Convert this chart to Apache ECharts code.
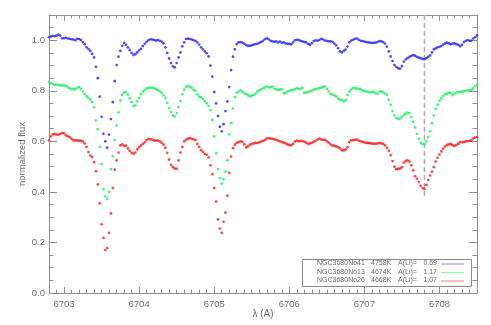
<!DOCTYPE html>
<html><head><meta charset="utf-8">
<script src="https://cdn.jsdelivr.net/npm/echarts@6/dist/echarts.min.js"></script>
<style>html,body{margin:0;padding:0;background:#fff}#c{width:491px;height:325px}</style>
</head><body><div id="c"></div>
<script>
// Wavelength grid of the spectra (Angstrom), regular sampling
const lambdaStart = 6702.8;
const lambdaStep = 0.025;
const lambdaCount = 229;

const starNames = ['NGC3680No41', 'NGC3680No13', 'NGC3680No26'];
const teffs = ['4758K', '4674K', '4668K'];
const aLi = ['0.69', '1.17', '1.07'];

const fluxNo41 = [
1.012,1.015,1.017,1.016,1.018,1.022,1.018,1.008,
1.008,1.010,1.007,1.006,1.004,1.003,1.000,1.006,
1.005,1.001,0.993,0.984,0.972,0.965,0.958,0.946,
0.932,0.895,0.850,0.777,0.697,0.630,0.600,0.575,
0.627,0.688,0.755,0.838,0.902,0.935,0.958,0.978,
0.990,0.982,0.972,0.962,0.950,0.942,0.945,0.952,
0.960,0.966,0.977,0.986,0.994,1.000,1.004,1.003,
1.001,0.999,1.001,0.998,0.995,0.988,0.972,0.950,
0.928,0.910,0.897,0.893,0.910,0.932,0.952,0.976,
0.992,1.005,1.007,1.005,1.003,1.000,0.998,0.992,
0.983,0.972,0.964,0.956,0.949,0.936,0.900,0.856,
0.795,0.750,0.700,0.658,0.640,0.668,0.720,0.758,
0.815,0.882,0.935,0.964,0.985,0.992,0.993,0.991,
0.986,0.981,0.978,0.978,0.980,0.983,0.985,0.986,
0.990,0.993,0.998,1.004,1.008,1.004,0.998,0.996,
0.994,0.996,0.991,0.995,0.990,0.992,0.988,0.986,
0.986,0.984,0.992,1.000,1.002,1.001,0.998,0.996,
0.993,0.992,0.985,0.982,0.988,0.997,1.000,0.998,
1.001,1.006,1.003,0.999,0.998,0.996,0.996,0.994,
0.987,0.980,0.968,0.956,0.952,0.958,0.963,0.975,
0.992,0.999,1.002,1.006,1.007,1.002,0.998,0.997,
0.995,0.993,0.992,0.991,0.989,0.990,0.991,0.993,
0.997,0.996,0.993,0.987,0.975,0.956,0.936,0.918,
0.902,0.894,0.889,0.888,0.898,0.915,0.924,0.929,
0.934,0.938,0.941,0.939,0.934,0.931,0.929,0.926,
0.925,0.929,0.934,0.940,0.952,0.964,0.968,0.972,
0.974,0.977,0.983,0.988,0.991,0.988,0.984,0.987,
0.988,0.985,0.982,0.976,0.982,0.993,0.998,1.001,
0.998,0.999,1.007,1.012,1.019
];

const fluxNo13 = [
0.835,0.830,0.827,0.823,0.826,0.823,0.822,0.820,
0.822,0.820,0.815,0.810,0.807,0.808,0.806,0.812,
0.815,0.808,0.798,0.787,0.778,0.772,0.765,0.755,
0.735,0.683,0.648,0.578,0.510,0.410,0.382,0.372,
0.400,0.490,0.541,0.605,0.663,0.715,0.761,0.784,
0.793,0.795,0.785,0.770,0.755,0.740,0.742,0.758,
0.772,0.787,0.797,0.804,0.810,0.812,0.813,0.812,
0.810,0.806,0.803,0.798,0.792,0.782,0.772,0.752,
0.732,0.716,0.702,0.699,0.712,0.736,0.760,0.786,
0.805,0.815,0.820,0.816,0.812,0.804,0.800,0.786,
0.777,0.775,0.768,0.758,0.750,0.740,0.724,0.685,
0.620,0.553,0.490,0.455,0.433,0.450,0.480,0.525,
0.628,0.672,0.730,0.775,0.792,0.797,0.802,0.797,
0.790,0.787,0.782,0.778,0.781,0.783,0.789,0.797,
0.802,0.806,0.810,0.813,0.817,0.815,0.814,0.817,
0.809,0.806,0.804,0.805,0.807,0.790,0.790,0.797,
0.799,0.802,0.804,0.807,0.810,0.808,0.808,0.812,
0.792,0.793,0.796,0.798,0.800,0.805,0.807,0.809,
0.811,0.813,0.815,0.817,0.808,0.798,0.788,0.785,
0.782,0.778,0.769,0.765,0.762,0.758,0.763,0.783,
0.797,0.805,0.812,0.811,0.809,0.808,0.806,0.802,
0.799,0.797,0.795,0.794,0.795,0.796,0.790,0.788,
0.797,0.798,0.795,0.790,0.784,0.765,0.745,0.720,
0.703,0.692,0.689,0.690,0.697,0.705,0.709,0.714,
0.712,0.696,0.677,0.655,0.630,0.610,0.595,0.589,
0.589,0.600,0.617,0.640,0.672,0.702,0.728,0.745,
0.760,0.770,0.780,0.786,0.789,0.792,0.792,0.783,
0.789,0.793,0.795,0.796,0.797,0.798,0.800,0.801,
0.802,0.804,0.810,0.818,0.824
];

const fluxNo26 = [
0.604,0.620,0.628,0.629,0.627,0.626,0.630,0.633,
0.632,0.624,0.620,0.616,0.610,0.604,0.603,0.604,
0.603,0.602,0.600,0.592,0.578,0.558,0.544,0.538,
0.518,0.482,0.430,0.355,0.272,0.218,0.170,0.178,
0.238,0.315,0.415,0.488,0.525,0.556,0.584,0.588,
0.582,0.583,0.572,0.562,0.555,0.551,0.556,0.568,
0.577,0.584,0.590,0.596,0.605,0.610,0.608,0.606,
0.603,0.603,0.603,0.600,0.594,0.587,0.575,0.555,
0.528,0.507,0.498,0.492,0.492,0.525,0.556,0.578,
0.600,0.607,0.610,0.613,0.610,0.608,0.605,0.590,
0.578,0.565,0.558,0.551,0.547,0.537,0.505,0.470,
0.415,0.362,0.291,0.255,0.238,0.282,0.318,0.385,
0.475,0.540,0.573,0.587,0.594,0.597,0.600,0.598,
0.588,0.576,0.580,0.587,0.590,0.592,0.594,0.594,
0.596,0.599,0.602,0.605,0.611,0.613,0.611,0.610,
0.608,0.606,0.603,0.600,0.597,0.595,0.592,0.588,
0.586,0.584,0.590,0.599,0.603,0.600,0.602,0.601,
0.598,0.595,0.590,0.592,0.594,0.598,0.602,0.607,
0.611,0.607,0.606,0.606,0.600,0.595,0.588,0.584,
0.582,0.580,0.577,0.572,0.565,0.564,0.568,0.577,
0.597,0.604,0.605,0.606,0.607,0.603,0.600,0.598,
0.596,0.594,0.594,0.593,0.591,0.590,0.590,0.592,
0.594,0.592,0.590,0.584,0.574,0.562,0.545,0.522,
0.500,0.490,0.491,0.492,0.498,0.516,0.523,0.525,
0.520,0.505,0.485,0.462,0.452,0.439,0.424,0.415,
0.412,0.428,0.447,0.465,0.480,0.498,0.520,0.535,
0.548,0.560,0.571,0.580,0.586,0.588,0.590,0.585,
0.582,0.586,0.591,0.597,0.596,0.598,0.600,0.600,
0.602,0.604,0.612,0.615,0.617
];

// Li I 6707.8 reference line (dashed) extent in flux
const liLineLambda = 6707.8;
const liLineFlux = [1.1, 0.38];

// Axis ranges and tick steps
const xRange = [6702.8, 6708.5];
const yRange = [0, 1.1];
const xMinorStep = 0.1;
const yMinorStep = 0.05;

const fluxSets = [fluxNo41, fluxNo13, fluxNo26];
const pointColors = ['#1f1fff', '#14f05a', '#ff1414'];
const sampleColors = ['#8a8aff', '#80ff9a', '#ff8080'];

const lambdas = [];
for (let i = 0; i < lambdaCount; i++) lambdas.push(+(lambdaStart + i * lambdaStep).toFixed(3));

const chart = echarts.init(document.getElementById('c'), null, {renderer: 'canvas'});
const axisColor = '#8f8f8f';
const labelColor = '#6e6e6e';
const font = 'Liberation Sans';

function xAxisDef(pos, major) {
  const a = {
    type: 'value', position: pos, min: xRange[0], max: xRange[1], gridIndex: 0,
    axisLine: {show: major, onZero: false, lineStyle: {color: axisColor, width: 1}},
    axisTick: {show: true, inside: true, length: major ? 6 : 3.5, lineStyle: {color: axisColor, width: 1}},
    axisLabel: {show: false},
    splitLine: {show: false}
  };
  if (major) { a.splitNumber = 5; } else { a.interval = xMinorStep; }
  return a;
}
function yAxisDef(pos, major) {
  const a = {
    type: 'value', position: pos, min: yRange[0], max: yRange[1], gridIndex: 0,
    axisLine: {show: major, onZero: false, lineStyle: {color: axisColor, width: 1}},
    axisTick: {show: true, inside: true, length: major ? 8 : 4.5, lineStyle: {color: axisColor, width: 1}},
    axisLabel: {show: false},
    splitLine: {show: false}
  };
  if (major) { a.splitNumber = 5; } else { a.interval = yMinorStep; }
  return a;
}

const xAxes = [xAxisDef('bottom', true), xAxisDef('bottom', false), xAxisDef('top', true), xAxisDef('top', false)];
xAxes[0].axisLabel = {show: true, color: labelColor, fontSize: 9.5, fontFamily: font, margin: 6,
  formatter: v => Math.abs(v - Math.round(v)) < 1e-6 ? String(Math.round(v)) : ''};
xAxes[0].name = 'λ (A)';
xAxes[0].nameLocation = 'middle';
xAxes[0].nameGap = 16;
xAxes[0].nameMoveOverlap = false;
xAxes[0].nameTextStyle = {color: labelColor, fontSize: 10, fontFamily: font};

const yAxes = [yAxisDef('left', true), yAxisDef('left', false), yAxisDef('right', true), yAxisDef('right', false)];
yAxes[0].axisLabel = {show: true, color: labelColor, fontSize: 9.5, fontFamily: font, margin: 4,
  formatter: v => Math.abs(v * 5 - Math.round(v * 5)) < 1e-6 ? v.toFixed(1) : ''};
yAxes[0].name = 'normalized flux';
yAxes[0].nameLocation = 'middle';
yAxes[0].nameGap = 22;
yAxes[0].nameMoveOverlap = false;
yAxes[0].nameTextStyle = {color: labelColor, fontSize: 9.5, fontFamily: font};

const series = fluxSets.map((arr, k) => ({
  type: 'scatter', name: starNames[k], xAxisIndex: 0, yAxisIndex: 0,
  symbol: 'circle', symbolSize: 2.7,
  itemStyle: {color: pointColors[k]},
  data: lambdas.map((l, i) => [l, arr[i]]),
  z: 3, silent: true
}));
series.unshift({
  type: 'line', xAxisIndex: 0, yAxisIndex: 0, symbol: 'none', silent: true, z: 2,
  data: liLineFlux.map(f => [liLineLambda, f]),
  lineStyle: {color: '#ababab', width: 1.5, type: [5, 3]}
});

// Legend box (IDL style)
const box = {x: 302, y: 259, w: 169, h: 27};
const rowY = [263.5, 272, 280.5];
const graphics = [{
  type: 'rect', shape: {x: box.x + 0.5, y: box.y + 0.5, width: box.w, height: box.h},
  style: {fill: '#fff', stroke: '#8a8a8a', lineWidth: 1}, z: 10
}];
starNames.forEach((nm, k) => {
  const st = {fill: '#6a6a6a', font: '7px "' + font + '"', verticalAlign: 'middle'};
  graphics.push({type: 'text', z: 11, style: Object.assign({text: nm, x: 317, y: rowY[k], align: 'left'}, st)});
  graphics.push({type: 'text', z: 11, style: Object.assign({text: teffs[k], x: 371, y: rowY[k], align: 'left'}, st)});
  graphics.push({type: 'text', z: 11, style: Object.assign({text: 'A(Li)=', x: 398, y: rowY[k], align: 'left'}, st)});
  graphics.push({type: 'text', z: 11, style: Object.assign({text: aLi[k], x: 437, y: rowY[k], align: 'right'}, st)});
  graphics.push({type: 'line', z: 11, shape: {x1: 441, y1: rowY[k] + 0.5, x2: 464, y2: rowY[k] + 0.5},
    style: {stroke: sampleColors[k], lineWidth: 1}});
});

chart.setOption({
  animation: false,
  backgroundColor: '#fff',
  grid: {left: 49, right: 14, top: 15, bottom: 32, containLabel: false},
  xAxis: xAxes,
  yAxis: yAxes,
  series: series,
  graphic: graphics
});
</script>
</body></html>
